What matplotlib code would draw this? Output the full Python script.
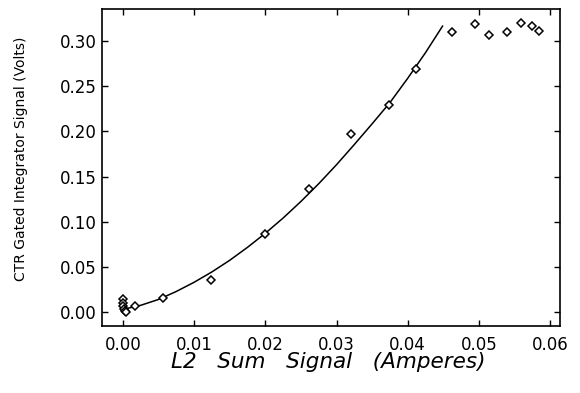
import matplotlib
matplotlib.use("Agg")
import matplotlib.pyplot as plt

# Measured data points (open diamonds)
x_pts = [0.0000, 0.0000, 0.0000, 0.0002, 0.0003, 0.0004,
         0.0017, 0.0056, 0.0123, 0.0200, 0.0262, 0.0321, 0.0374, 0.0411,
         0.0462, 0.0495, 0.0514, 0.0539, 0.0559, 0.0575, 0.0585]
y_pts = [0.014, 0.010, 0.006, 0.003, 0.001, 0.000,
         0.0067, 0.0149, 0.035, 0.086, 0.136, 0.197, 0.229, 0.269,
         0.310, 0.319, 0.307, 0.311, 0.320, 0.317, 0.312]

# Fit curve
x_fit = [0.0003, 0.0025, 0.0050, 0.0075, 0.0100, 0.0125, 0.0150, 0.0175,
         0.0200, 0.0225, 0.0250, 0.0275, 0.0300, 0.0325, 0.0350, 0.0375,
         0.0400, 0.0425, 0.0449]
y_fit = [0.003, 0.007, 0.0135, 0.0224, 0.0326, 0.0441, 0.057, 0.0714,
         0.087, 0.1039, 0.1223, 0.142, 0.1631, 0.1855, 0.2085, 0.232,
         0.259, 0.2875, 0.317]

x_ticks = [0.00, 0.01, 0.02, 0.03, 0.04, 0.05, 0.06]
y_ticks = [0.00, 0.05, 0.10, 0.15, 0.20, 0.25, 0.30]

fig = plt.figure(figsize=(5.80, 3.93), dpi=100)
ax = fig.add_axes([0.1759, 0.1705, 0.7896, 0.8066])

ax.plot(x_fit, y_fit, color="black", lw=1.1)
ax.plot(x_pts, y_pts, linestyle="none", marker="D", ms=4.2,
        mfc="white", mec="black", mew=1.1)

ax.set_xlim(-0.00295, 0.0614)
ax.set_ylim(-0.016, 0.336)
ax.set_xticks(x_ticks)
ax.set_yticks(y_ticks)
ax.set_xticklabels([f"{v:.2f}" for v in x_ticks])
ax.set_yticklabels([f"{v:.2f}" for v in y_ticks])
ax.tick_params(direction="in", length=4, width=1, top=True, right=True,
               labelsize=12)
ax.tick_params(axis="x", pad=7)
ax.tick_params(axis="y", pad=4)
for s in ax.spines.values():
    s.set_linewidth(1.2)

ax.set_xlabel("L2   Sum   Signal   (Amperes)", fontsize=15.5, style="italic")
ax.xaxis.set_label_coords(0.495, -0.114)
ax.xaxis.label.set_va("center")
ax.set_ylabel("CTR Gated Integrator Signal (Volts)", fontsize=10)
ax.yaxis.set_label_coords(-0.176, 0.528)
ax.yaxis.label.set_va("center")

fig.savefig("out.png", dpi=100)
